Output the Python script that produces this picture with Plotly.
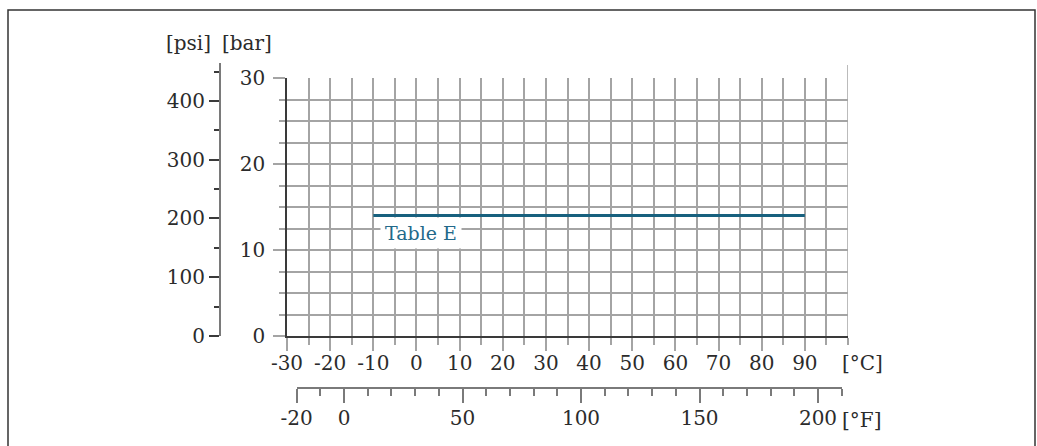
import plotly.graph_objects as go

# data
temps_c = [-10, 90]
pressure_bar = [14, 14]
series_name = "Table E"

c_ticks = [-30, -20, -10, 0, 10, 20, 30, 40, 50, 60, 70, 80, 90]
f_ticks = [-20, 0, 50, 100, 150, 200]
bar_ticks = [0, 10, 20, 30]
psi_ticks = [0, 100, 200, 300, 400]

FONT = "DejaVu Serif"
TXT = "#2b2b2b"
GRID = "#a4a4a4"
AXIS = "#3a3a3a"
SCALE = "#7a7a7a"
BLUE = "#17607e"

W, H = 1037, 446
# paper spans x 210..848 and y 62..388 (pixels)
ML, MR, MT, MB = 210, W - 848, 62, H - 388
PW, PH = W - ML - MR, H - MT - MB


def px_x(x):
    return (x - ML) / PW


def px_y(y):
    return (H - MB - y) / PH


fig = go.Figure()

fig.add_trace(go.Scatter(
    x=temps_c, y=pressure_bar, mode="lines",
    line=dict(color=BLUE, width=3),
    xaxis="x", yaxis="y", showlegend=False, hoverinfo="skip",
))
# empty trace so the °F and psi scales get drawn
fig.add_trace(go.Scatter(x=[], y=[], xaxis="x2", yaxis="y2", showlegend=False, hoverinfo="skip"))

tickfont = dict(family=FONT, size=20, color=TXT)

fig.update_layout(
    width=W, height=H,
    margin=dict(l=ML, r=MR, t=MT, b=MB),
    paper_bgcolor="white",
    plot_bgcolor="rgba(0,0,0,0)",
    showlegend=False,
    xaxis=dict(
        domain=[px_x(287), 1], range=[-30, 100], anchor="y",
        tickmode="array", tickvals=c_ticks, ticktext=[str(v) for v in c_ticks],
        ticks="outside", ticklen=13, tickcolor=GRID, tickwidth=1.5,
        ticklabelstandoff=-5,
        showgrid=True, gridcolor=GRID, gridwidth=1.5,
        minor=dict(dtick=5, tick0=-30, ticks="outside", ticklen=7, tickcolor=GRID,
                   tickwidth=1.5, showgrid=True, gridcolor=GRID, gridwidth=1.5),
        showline=True, linecolor=AXIS, linewidth=1.5,
        zeroline=False, tickfont=tickfont, fixedrange=True,
    ),
    yaxis=dict(
        domain=[px_y(336), px_y(78)], range=[0, 30], anchor="x",
        tickmode="array", tickvals=bar_ticks, ticktext=[str(v) for v in bar_ticks],
        ticks="outside", ticklen=12, tickcolor=GRID, tickwidth=1.5,
        ticklabelstandoff=4,
        showgrid=True, gridcolor=GRID, gridwidth=1.5,
        minor=dict(dtick=2.5, tick0=0, ticks="outside", ticklen=6, tickcolor=GRID,
                   tickwidth=1.5, showgrid=True, gridcolor=GRID, gridwidth=1.5),
        showline=True, linecolor=AXIS, linewidth=1.5,
        zeroline=False, tickfont=tickfont, fixedrange=True,
    ),
    xaxis2=dict(
        domain=[px_x(296.6), px_x(841.7)], range=[-20, 210],
        anchor="free", position=0,
        tickmode="array", tickvals=f_ticks, ticktext=[str(v) for v in f_ticks],
        ticks="outside", ticklen=14, tickcolor=SCALE, tickwidth=1.5,
        ticklabelstandoff=-2,
        minor=dict(dtick=10, tick0=0, ticks="outside", ticklen=7, tickcolor=SCALE, tickwidth=1.5),
        showline=True, linecolor=SCALE, linewidth=2, showgrid=False,
        zeroline=False, tickfont=tickfont, fixedrange=True,
    ),
    yaxis2=dict(
        domain=[px_y(336), px_y(62.7)], range=[0, 465],
        anchor="free", position=px_x(220), side="left",
        tickmode="array", tickvals=psi_ticks, ticktext=[str(v) for v in psi_ticks],
        ticks="outside", ticklen=10, tickcolor=AXIS, tickwidth=1.5,
        minor=dict(dtick=50, tick0=0, ticks="outside", ticklen=5, tickcolor=AXIS, tickwidth=1.5),
        showline=True, linecolor=SCALE, linewidth=2, showgrid=False,
        zeroline=False, tickfont=tickfont, fixedrange=True,
    ),
)

# right edge of the chart runs up a bit past the 30 bar line
fig.add_shape(type="line", xref="x", yref="paper", x0=100, x1=100,
              y0=px_y(336), y1=px_y(65), line=dict(color=GRID, width=1.5))
# frame around the whole figure
fig.add_shape(type="rect", xref="paper", yref="paper",
              x0=px_x(8), x1=px_x(1035), y0=px_y(460), y1=px_y(10),
              line=dict(color="#333333", width=1.5), layer="below")

fig.add_annotation(x=temps_c[0], y=pressure_bar[0], xref="x", yref="y",
                   text=series_name, showarrow=False, xanchor="left", yanchor="middle",
                   xshift=7, yshift=-17, bgcolor="white", borderpad=4,
                   font=dict(family=FONT, size=19, color="#23698a"))

units = [("[psi]", 188, 43), ("[bar]", 247, 43), ("[°C]", 862, 363), ("[°F]", 861, 420)]
for txt, x, y in units:
    fig.add_annotation(x=px_x(x), y=px_y(y), xref="paper", yref="paper", text=txt,
                       showarrow=False, xanchor="center", yanchor="middle",
                       font=dict(family=FONT, size=20, color=TXT))

# drop the browser's default 8px body margin so the page lines up with the window
fig.write_html("out.html", config={"displayModeBar": False},
               post_script="document.body.style.margin='0';document.body.style.overflow='hidden';")
